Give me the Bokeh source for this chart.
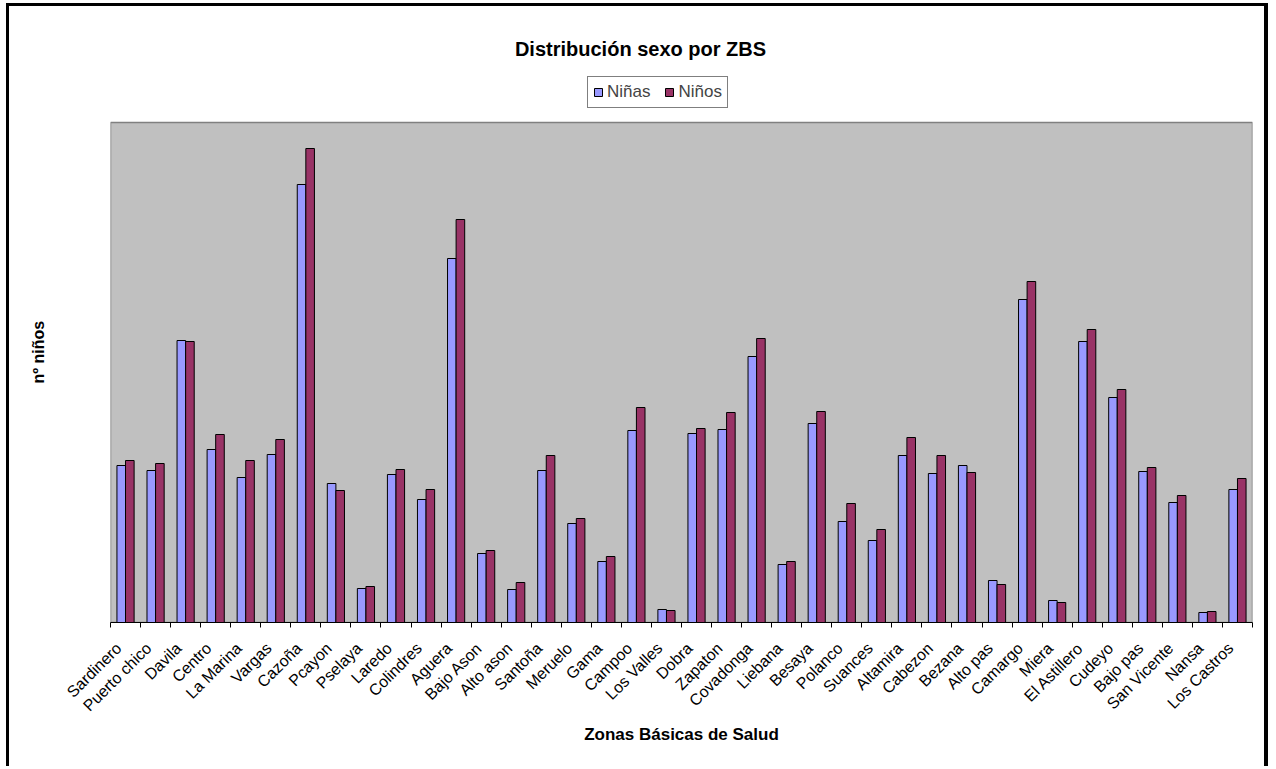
import math
import numpy as np
from bokeh.plotting import figure
from bokeh.models import Range1d, FixedTicker, Legend, LegendItem, Title, Label
from bokeh.embed import file_html
from bokeh.resources import INLINE

# Zonas Básicas de Salud and number of children by sex
zonas = ["Sardinero", "Puerto chico", "Davila", "Centro", "La Marina", "Vargas",
         "Cazoña", "Pcayon", "Pselaya", "Laredo", "Colindres", "Aguera",
         "Bajo Ason", "Alto ason", "Santoña", "Meruelo", "Gama", "Campoo",
         "Los Valles", "Dobra", "Zapaton", "Covadonga", "Liebana", "Besaya",
         "Polanco", "Suances", "Altamira", "Cabezon", "Bezana", "Alto pas",
         "Camargo", "Miera", "El Astillero", "Cudeyo", "Bajo pas", "San Vicente",
         "Nansa", "Los Castros"]
ninas = [157, 152, 282, 173, 145, 168, 438, 139, 34, 148, 123, 364, 69, 33,
         152, 99, 61, 192, 13, 189, 193, 266, 58, 199, 101, 82, 167, 149, 157,
         42, 323, 22, 281, 225, 151, 120, 10, 133]
ninos = [162, 159, 281, 188, 162, 183, 474, 132, 36, 153, 133, 403, 72, 40,
         167, 104, 66, 215, 12, 194, 210, 284, 61, 211, 119, 93, 185, 167, 150,
         38, 341, 20, 293, 233, 155, 127, 11, 144]
y_max = 500      # top of the value axis
head_room = 97   # white band above the plot area holding title and legend

FONT = "Liberation Sans"
n = len(zonas)
centers = np.arange(n) + 0.5
bar_w = 1 / 3.5  # Excel-like gap width of 150 %

p = figure(width=1262, height=763,
           x_range=Range1d(0, n), y_range=Range1d(0, y_max + head_room),
           output_backend="svg", toolbar_location=None,
           min_border_left=101, min_border_right=19,
           min_border_top=19, min_border_bottom=147)
p.styles = {"border-left": "3px solid black", "border-top": "3px solid black",
            "border-right": "4px solid black",
            "margin-left": "6px", "margin-top": "3px"}

p.background_fill_color = "white"
p.border_fill_color = "white"
p.outline_line_color = None
p.grid.visible = False

# grey plot area
p.quad(left=[0], right=[n], bottom=[0], top=[y_max],
       fill_color="#C0C0C0", line_color="#808080", line_width=1.5)

r_f = p.vbar(x=centers - bar_w / 2, top=ninas, width=bar_w,
             fill_color="#9999FF", line_color="black", line_width=1)
r_m = p.vbar(x=centers + bar_w / 2, top=ninos, width=bar_w,
             fill_color="#993366", line_color="black", line_width=1)

# x axis: names hang from the category centres, tick marks between categories
label_pos = centers - 0.23
xa = p.xaxis[0]
xa.ticker = FixedTicker(ticks=list(label_pos), minor_ticks=list(range(n + 1)))
xa.major_label_overrides = {float(c): z for c, z in zip(label_pos, zonas)}
xa.major_label_orientation = math.pi / 4
xa.major_label_text_font = FONT
xa.major_label_text_font_size = "16px"
xa.major_label_text_color = "black"
xa.major_label_standoff = 18
xa.major_tick_in = 0
xa.major_tick_out = 0
xa.minor_tick_in = 0
xa.minor_tick_out = 5
xa.minor_tick_line_color = "black"
xa.axis_line_color = "black"
xa.axis_label = "Zonas Básicas de Salud"
xa.axis_label_text_font = FONT
xa.axis_label_text_font_size = "17px"
xa.axis_label_text_font_style = "bold"
xa.axis_label_text_color = "black"
xa.axis_label_standoff = 2

# value axis without scale; its (invisible) tick length spaces the title
ya = p.yaxis[0]
ya.ticker = FixedTicker(ticks=[0])
ya.major_label_overrides = {0: ""}
ya.axis_line_color = None
ya.major_tick_line_color = None
ya.minor_tick_line_color = None
ya.major_tick_in = 0
ya.major_tick_out = 62
ya.minor_tick_out = 0
ya.major_label_standoff = 0
ya.major_label_text_font_size = "0px"

p.add_layout(Title(text="nº niños", text_font=FONT, text_font_size="16px",
                   text_font_style="bold", text_color="black",
                   align="left", offset=239, standoff=4), "left")

# chart title (screen pixels from the frame's bottom-left corner)
p.add_layout(Label(x=530, y=574, x_units="screen", y_units="screen",
                   text="Distribución sexo por ZBS", text_font=FONT,
                   text_font_size="20px", text_font_style="bold",
                   text_align="center", text_baseline="alphabetic",
                   text_color="black"))

legend = Legend(items=[LegendItem(label="Niñas", renderers=[r_f]),
                       LegendItem(label="Niños", renderers=[r_m])],
                orientation="horizontal", location=(477, 514),
                border_line_color="black", border_line_width=1,
                background_fill_color="white", background_fill_alpha=1,
                label_text_font=FONT, label_text_font_size="17px",
                glyph_width=10, glyph_height=10, label_standoff=4,
                spacing=14, padding=5, margin=0, label_height=17)
p.add_layout(legend, "center")

open("out.html", "w").write(file_html(p, INLINE))
